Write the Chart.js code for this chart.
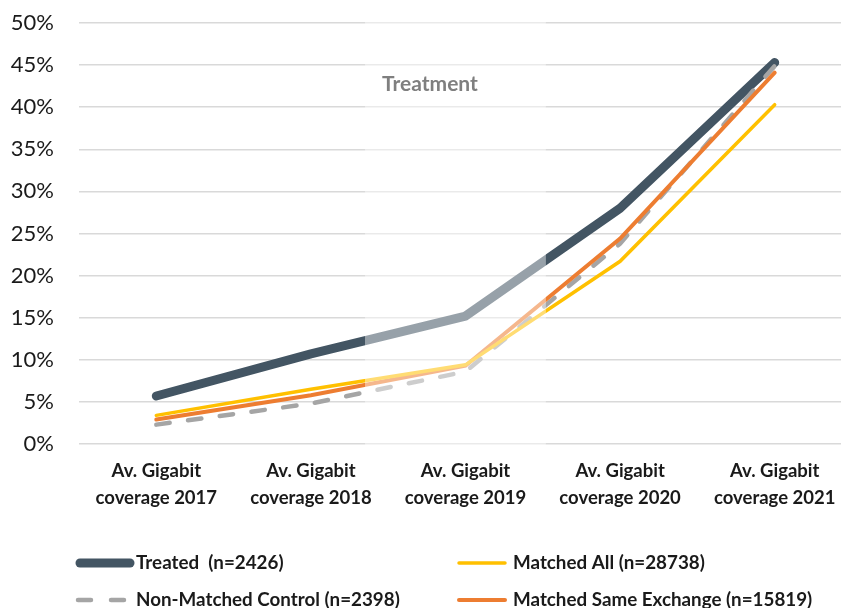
<!DOCTYPE html>
<html><head><meta charset="utf-8">
<script src="https://cdn.jsdelivr.net/npm/chart.js@4.4.1/dist/chart.umd.min.js"></script>
<style>
html,body{margin:0;padding:0;overflow:hidden;background:#fff;width:841px;height:608px}
#wrap{position:absolute;left:0;top:0;width:868px;height:608px}
</style></head>
<body><div id="wrap"><canvas id="c"></canvas></div>
<script>
const categories = [
  ["Av. Gigabit", "coverage 2017"],
  ["Av. Gigabit", "coverage 2018"],
  ["Av. Gigabit", "coverage 2019"],
  ["Av. Gigabit", "coverage 2020"],
  ["Av. Gigabit", "coverage 2021"]
];
const treated = [5.7, 10.7, 15.2, 28.0, 45.3];
const matchedAll = [3.4, 6.5, 9.4, 21.7, 40.3];
const nonMatchedControl = [2.3, 4.8, 8.6, 23.8, 44.9];
const matchedSameExchange = [2.9, 5.8, 9.3, 24.4, 44.1];
const yTicks = [0, 5, 10, 15, 20, 25, 30, 35, 40, 45, 50];
const treatmentLabel = "Treatment";
const treatmentSpan = [1.35, 2.52];   // category units
const treatmentLabelAt = [1.77, 42.7];

const FONT = "Lato, 'Open Sans', sans-serif";

const overlayPlugin = {
  id: 'overlay',
  afterDatasetsDraw(chart) {
    const {ctx, chartArea, scales: {x, y}} = chart;
    const x0 = x.getPixelForValue(treatmentSpan[0]);
    const x1 = x.getPixelForValue(treatmentSpan[1]);
    ctx.save();
    ctx.fillStyle = 'rgba(255,255,255,0.45)';
    ctx.fillRect(x0, chartArea.top - 2, x1 - x0, chartArea.bottom - chartArea.top + 4);
    ctx.fillStyle = '#7f7f7f';
    ctx.font = "bold 21px " + FONT;
    ctx.textAlign = 'center';
    ctx.textBaseline = 'middle';
    ctx.fillText(treatmentLabel, x.getPixelForValue(treatmentLabelAt[0]), y.getPixelForValue(treatmentLabelAt[1]));
    ctx.restore();
  }
};

const legendPlugin = {
  id: 'customLegend',
  afterDraw(chart) {
    const {ctx, chartArea} = chart;
    const ds = chart.data.datasets;
    const slots = [
      {i: 0, x: 80, y: chartArea.bottom + 119, len: 50, tx: 136},
      {i: 1, x: 459, y: chartArea.bottom + 119, len: 46, tx: 513},
      {i: 2, x: 78, y: chartArea.bottom + 156, len: 48, tx: 136},
      {i: 3, x: 459, y: chartArea.bottom + 156, len: 46, tx: 513}
    ];
    ctx.save();
    slots.forEach(s => {
      const d = ds[s.i];
      ctx.beginPath();
      ctx.strokeStyle = d.borderColor;
      ctx.lineWidth = d.borderWidth;
      ctx.lineCap = 'round';
      ctx.setLineDash(d.borderDash ? [13, 20] : []);
      ctx.moveTo(s.x, s.y);
      ctx.lineTo(s.x + s.len, s.y);
      ctx.stroke();
      ctx.setLineDash([]);
      ctx.fillStyle = '#1a1a1a';
      ctx.font = "bold 18.8px " + FONT;
      ctx.textAlign = 'left';
      ctx.textBaseline = 'middle';
      ctx.fillText(d.label, s.tx, s.y);
    });
    ctx.restore();
  }
};

new Chart(document.getElementById('c'), {
  type: 'line',
  data: {
    labels: categories,
    datasets: [
      {label: 'Treated  (n=2426)', data: treated, borderColor: '#435563', borderWidth: 9,
       borderCapStyle: 'round', borderJoinStyle: 'round', order: 4},
      {label: 'Matched All (n=28738)', data: matchedAll, borderColor: '#FFC000', borderWidth: 3.5,
       borderCapStyle: 'round', order: 1},
      {label: 'Non-Matched Control (n=2398)', data: nonMatchedControl, borderColor: '#A5A5A5', borderWidth: 4.5,
       borderDash: [13.5, 18.5], borderCapStyle: 'round', order: 3},
      {label: 'Matched Same Exchange (n=15819)', data: matchedSameExchange, borderColor: '#ED7D31', borderWidth: 4,
       borderCapStyle: 'round', order: 2}
    ]
  },
  options: {
    responsive: true,
    maintainAspectRatio: false,
    animation: false,
    layout: {padding: {top: 23, right: 16, bottom: 0, left: 0}},
    elements: {point: {radius: 0, hoverRadius: 0}, line: {tension: 0}},
    plugins: {legend: {display: false}, tooltip: {enabled: false}},
    scales: {
      x: {
        offset: true,
        grid: {display: false, drawTicks: false},
        border: {display: false},
        ticks: {color: '#1a1a1a', font: {family: FONT, size: 18.5, weight: 'bold', lineHeight: 1.45},
                padding: 14, maxRotation: 0, autoSkip: false},
        afterFit(s) { s.height = 164; s.paddingLeft = 0; s.paddingRight = 0; }
      },
      y: {
        min: 0, max: 50,
        afterBuildTicks(s) { s.ticks = yTicks.map(v => ({value: v})); },
        grid: {color: '#d9d9d9', lineWidth: 1.5, drawTicks: false},
        border: {display: false},
        ticks: {color: '#1a1a1a', font: {family: FONT, size: 22}, padding: 25,
                callback: v => v + '%'},
        afterFit(s) { s.width = 79; s.paddingTop = 0; s.paddingBottom = 0; }
      }
    }
  },
  plugins: [overlayPlugin, legendPlugin]
});
</script>
</body></html>
